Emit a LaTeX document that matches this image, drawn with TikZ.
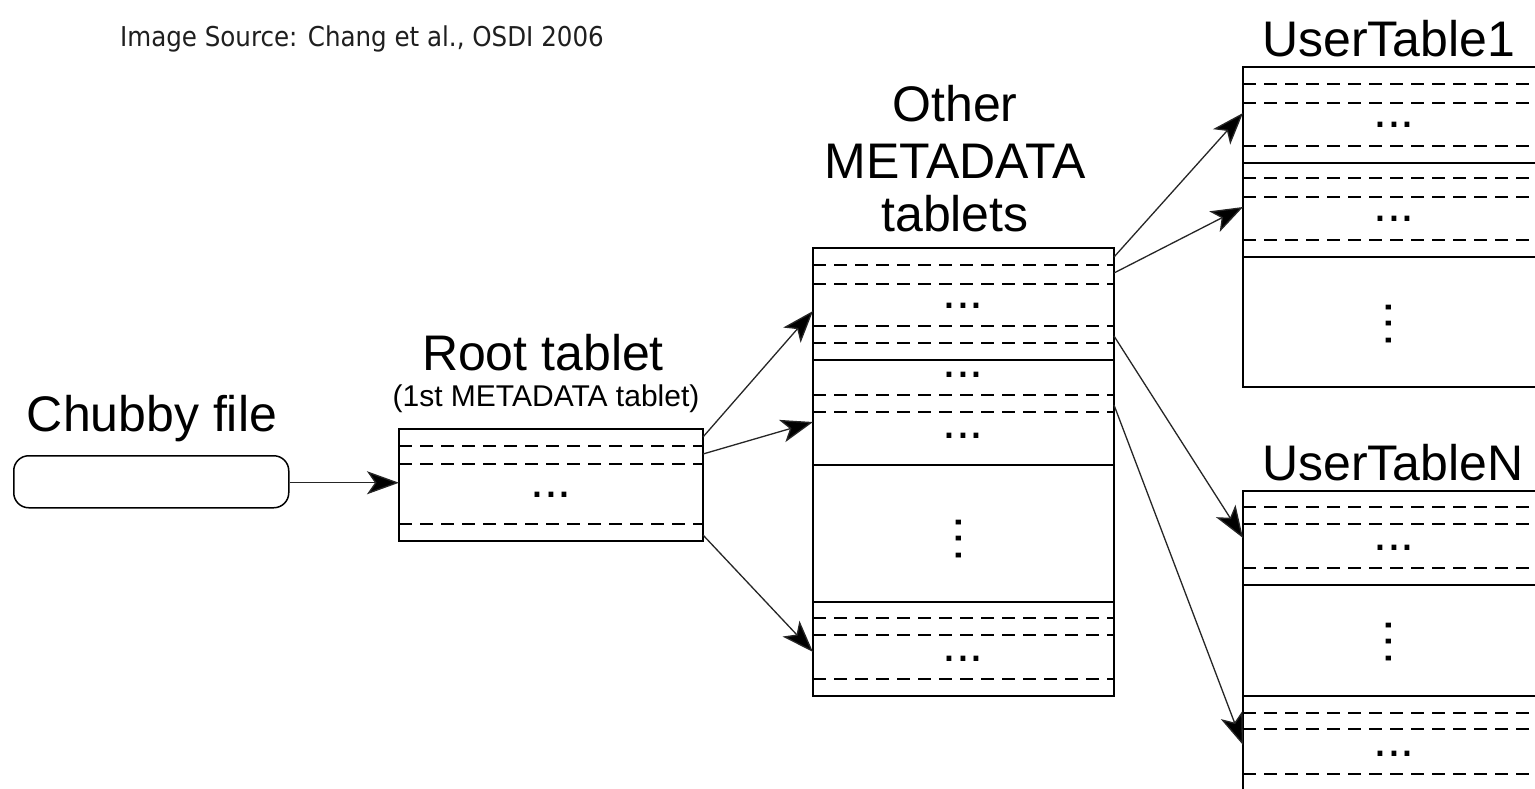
\documentclass[tikz,border=0pt]{standalone}
\usepackage{fontspec}
\setmainfont{Liberation Sans}
\newfontfamily\srcfont{DejaVu Sans Condensed}
\usetikzlibrary{arrows.meta}
\begin{document}
\begin{tikzpicture}[x=1pt,y=-1pt,
  tbl/.style={draw, line width=1.6pt, rectangle, inner sep=0pt, outer sep=0pt, anchor=north west},
  dsh/.style={line width=1.4pt, dash pattern=on 13pt off 8pt},
  sol/.style={line width=1.6pt},
  arr/.style={line width=1.3pt, draw=black!85, -{Stealth[length=32pt, width=23pt, inset=8pt, fill=black]}},
  lbl/.style={font=\fontsize{50}{60}\selectfont, inner sep=0pt, anchor=base},
  small/.style={font=\fontsize{30}{36}\selectfont, inner sep=0pt, anchor=base},
  hd/.style={font=\fontsize{50}{60}\selectfont, inner sep=0pt, anchor=center},
  vd/.style={font=\fontsize{50}{60}\selectfont, inner sep=0pt, anchor=center, rotate=90}]
\path[use as bounding box, clip] (0,0) rectangle (1535,788);
\fill[white] (0,0) rectangle (1535,788);

% caption
\node[inner sep=0pt, anchor=base west, font=\srcfont\fontsize{27.3}{32}\selectfont, text=black!88] (src) at (120,46) {Image Source: Chang et al., OSDI 2006};

% Chubby file
\node[lbl] (chubbylbl) at (152,431) {Chubby file};
\node[draw, line width=1.5pt, rounded corners=15pt, minimum width=275pt, minimum height=52pt, inner sep=0pt, anchor=north west] (chubby) at (13,455) {};

% Root tablet
\node[lbl] (rootlbl) at (543,370) {Root tablet};
\node[small] (rootsub) at (546,406) {(1st METADATA tablet)};
\node[tbl, minimum width=304pt, minimum height=112pt] (root) at (399,429) {};
\foreach \y in {446,464,524} \draw[dsh] (399,\y) -- (703,\y);
\node[hd] (rootd) at (551,495) {...};

% Other METADATA tablets
\node[lbl] (metal1) at (955,121) {Other};
\node[lbl] (metal2) at (955,178) {METADATA};
\node[lbl] (metal3) at (955,231) {tablets};
\node[tbl, minimum width=301pt, minimum height=448pt] (meta) at (813,248) {};
\foreach \y in {265,284,326,343,395,412,618,635,679} \draw[dsh] (813,\y) -- (1114,\y);
\foreach \y in {360,465,602} \draw[sol] (813,\y) -- (1114,\y);
\foreach \y/\n in {306/a,375/b,436/c,659/d} \node[hd] (metad\n) at (963,\y) {...};
\node[vd] (metav) at (959,539) {.\kern3pt.\kern3pt.};

% UserTable1
\node[lbl, anchor=base west] (ut1lbl) at (1262,56) {UserTable1};
\node[tbl, minimum width=320pt, minimum height=320pt] (ut1) at (1243,67) {};
\foreach \y in {84,103,146,178,197,240} \draw[dsh] (1243,\y) -- (1560,\y);
\foreach \y in {163,257} \draw[sol] (1243,\y) -- (1560,\y);
\foreach \y/\n in {125/a,219/b} \node[hd] (ut1d\n) at (1394,\y) {...};
\node[vd] (ut1v) at (1389,324) {.\kern3pt.\kern3pt.};

% UserTableN
\node[lbl, anchor=base west] (utNlbl) at (1262,480) {UserTableN};
\node[tbl, minimum width=320pt, minimum height=320pt] (utN) at (1243,491) {};
\foreach \y in {507,524,568,713,729,774} \draw[dsh] (1243,\y) -- (1560,\y);
\foreach \y in {585,696} \draw[sol] (1243,\y) -- (1560,\y);
\foreach \y/\n in {548/a,754/b} \node[hd] (utNd\n) at (1394,\y) {...};
\node[vd] (utNv) at (1389,642) {.\kern3pt.\kern3pt.};

% connectors
\draw[arr] ([yshift=-1pt]chubby.east) -- ([yshift=-1pt]chubby.east -| root.west);
\draw[arr] ([yshift=-8pt]root.north east) -- ([yshift=-63pt]meta.north west);
\draw[arr] ([yshift=-25pt]root.north east) -- ([yshift=-174pt]meta.north west);
\draw[arr] ([yshift=6pt]root.south east) -- ([yshift=-404pt]meta.north west);
\draw[arr] ([yshift=-9pt]meta.north east) -- ([yshift=-46pt]ut1.north west);
\draw[arr] ([yshift=-25pt]meta.north east) -- ([yshift=-140pt]ut1.north west);
\draw[arr] ([yshift=-88pt]meta.north east) -- ([yshift=-47pt]utN.north west);
\draw[arr] ([yshift=-157pt]meta.north east) -- ([yshift=-254pt]utN.north west);
\end{tikzpicture}
\end{document}
